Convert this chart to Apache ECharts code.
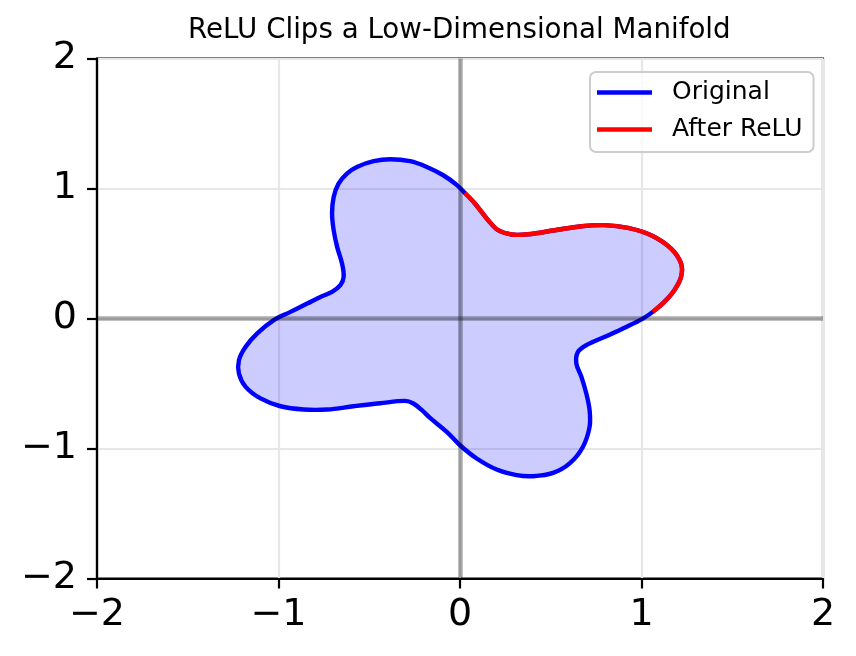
<!DOCTYPE html>
<html>
  <head>
    <meta charset="UTF-8" />
    <title>ReLU Clips a Low-Dimensional Manifold</title>
    <script src="https://cdn.jsdelivr.net/npm/echarts@6.0.0/dist/echarts.min.js"></script>
    <style>
      body { margin: 0; background: #ffffff; }
    </style>
  </head>
  <body>
    <div id="manifoldChart" style="width: 856px; height: 656px"></div>
  </body>
  <script>
    // outline of the manifold, counter-clockwise from the right lobe
    const curveX = [
      1.062, 1.126, 1.181, 1.218, 1.218, 1.163, 1.053, 0.925, 0.797, 0.669,
      0.522, 0.375, 0.284, 0.210, 0.155, 0.082, 0.027, -0.020, -0.092, -0.183,
      -0.275, -0.385, -0.476, -0.568, -0.623, -0.669, -0.696, -0.705, -0.696, -0.677,
      -0.650, -0.641, -0.659, -0.705, -0.769, -0.842, -0.934, -1.026, -1.117, -1.181,
      -1.218, -1.218, -1.181, -1.099, -0.989, -0.861, -0.732, -0.586, -0.440, -0.302,
      -0.257, -0.210, -0.165, -0.073, 0.000, 0.092, 0.202, 0.312, 0.403, 0.513,
      0.604, 0.677, 0.714, 0.714, 0.696, 0.669, 0.641, 0.650, 0.696, 0.806,
      0.916, 1.005
    ];
    const curveY = [
      0.051, 0.128, 0.218, 0.320, 0.423, 0.538, 0.641, 0.697, 0.718, 0.710,
      0.679, 0.648, 0.646, 0.679, 0.756, 0.885, 0.965, 1.030, 1.102, 1.166,
      1.210, 1.225, 1.210, 1.166, 1.115, 1.038, 0.935, 0.808, 0.679, 0.551,
      0.423, 0.320, 0.256, 0.205, 0.166, 0.115, 0.051, -0.013, -0.115, -0.218,
      -0.321, -0.423, -0.526, -0.615, -0.675, -0.700, -0.700, -0.675, -0.652, -0.634,
      -0.654, -0.705, -0.765, -0.872, -0.975, -1.077, -1.162, -1.205, -1.213, -1.188,
      -1.115, -0.988, -0.834, -0.705, -0.577, -0.449, -0.346, -0.257, -0.205, -0.136,
      -0.065, -0.003
    ];
    const axisTicks = [-2, -1, 0, 1, 2];

    let myChart = echarts.init(document.getElementById('manifoldChart'));

    let original = curveX.map((x, i) => [x, curveY[i]]);
    let afterRelu = original.filter(p => p[0] >= 0 && p[1] >= 0); // part that survives ReLU untouched

    const font = 'DejaVu Sans';
    const smooth = 0.35;
    const minus = v => (v < 0 ? '\u2212' + Math.abs(v) : String(v));

    function valueAxis(margin) {
      return {
        type: 'value',
        min: axisTicks[0],
        max: axisTicks[axisTicks.length - 1],
        interval: 1,
        axisLine: { show: true, onZero: false, lineStyle: { color: '#000', width: 2.2 } },
        axisTick: { show: true, length: 10, lineStyle: { color: '#000', width: 2.2 } },
        axisLabel: {
          show: true, margin: margin, showMinLabel: true, showMaxLabel: true,
          fontFamily: font, fontSize: 38, color: '#000', formatter: minus
        },
        splitLine: { show: true, lineStyle: { color: '#e7e7e7', width: 2.2 } }
      };
    }

    // one custom mark per curve, points mapped through the axes
    function curveSeries(name, points, closed, z, style) {
      return {
        type: 'custom',
        name: name,
        z: z,
        silent: true,
        data: [0],
        itemStyle: { color: style.stroke || style.fill },
        renderItem: (params, api) => ({
          type: closed ? 'polygon' : 'polyline',
          shape: { points: points.map(p => api.coord(p)), smooth: smooth },
          style: Object.assign({ fill: 'none', lineJoin: 'round' }, style)
        })
      };
    }

    myChart.setOption({
      animation: false,
      title: {
        text: 'ReLU Clips a Low-Dimensional Manifold',
        left: 188,
        top: 17,
        padding: 0,
        textStyle: { fontFamily: font, fontSize: 27.7, fontWeight: 'normal', color: '#000' }
      },
      legend: {
        data: [{ name: 'Original', icon: 'rect' }, { name: 'After ReLU', icon: 'rect' }],
        orient: 'vertical',
        left: 590,
        top: 72,
        itemWidth: 55,
        itemHeight: 4.4,
        itemGap: 12,
        padding: [8, 11, 10, 7],
        backgroundColor: 'rgba(255,255,255,0.8)',
        borderColor: '#cccccc',
        borderWidth: 2,
        borderRadius: 6,
        selectedMode: false,
        textStyle: { fontFamily: font, fontSize: 25, color: '#000', padding: [0, 0, 0, 15] }
      },
      grid: {
        left: 97,
        right: 33,
        top: 58.5,
        bottom: 77.5,
        show: true,
        borderColor: '#000',
        borderWidth: 2.2,
        outerBoundsMode: 'none'
      },
      xAxis: valueAxis(18),
      yAxis: valueAxis(20),
      series: [
        curveSeries('fill', original, true, 1, { fill: 'rgba(0, 0, 255, 0.2)' }),
        curveSeries('Original', original, true, 2, { stroke: '#0000ff', lineWidth: 4.4 }),
        curveSeries('After ReLU', afterRelu, false, 3, { stroke: '#ff0000', lineWidth: 4.4 }),
        {
          type: 'line',
          name: 'zero',
          data: [],
          z: 5,
          silent: true,
          markLine: {
            symbol: 'none',
            silent: true,
            animation: false,
            label: { show: false },
            lineStyle: { color: 'rgba(0,0,0,0.33)', width: 4.5, type: 'solid' },
            data: [{ xAxis: 0 }, { yAxis: 0 }]
          }
        }
      ]
    });
  </script>
</html>
